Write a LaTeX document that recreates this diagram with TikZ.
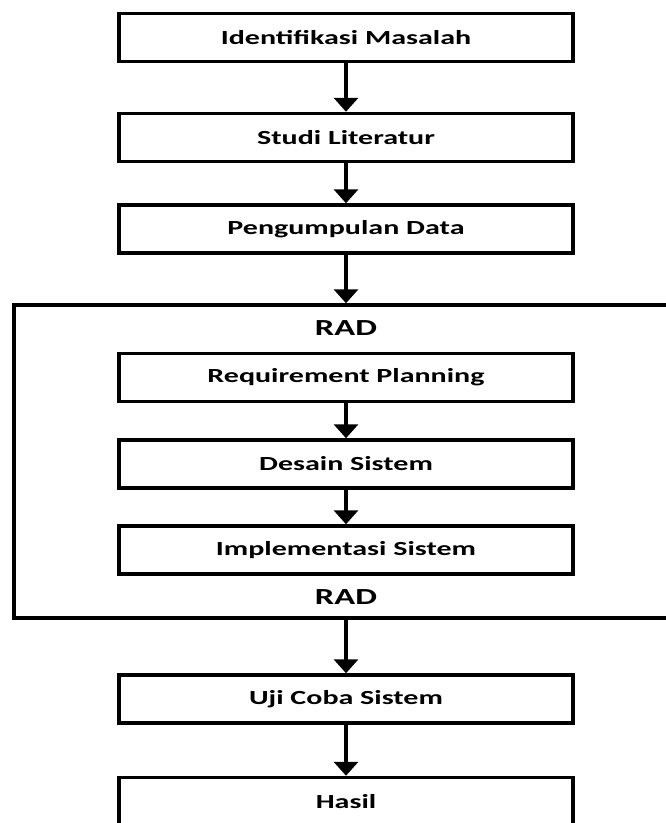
\documentclass[tikz,border=0pt]{standalone}
\usepackage{fontspec}
\setmainfont[FakeStretch=1.5]{Carlito}
\usetikzlibrary{arrows.meta}

\tikzset{
  box/.style={draw, line width=3.5pt, minimum width=454pt, minimum height=48pt,
    inner sep=0pt, font=\bfseries\fontsize{20}{24}\selectfont},
  panah/.style={line width=3.5pt, -{Triangle[width=24pt,length=14pt]}},
  judul/.style={font=\bfseries\fontsize{23}{27}\selectfont},
}

\begin{document}
\begin{tikzpicture}[x=1pt, y=-1pt]
    \useasboundingbox (0,0) rectangle (666,823) ;
    \clip (0,0) rectangle (666,823) ;
    \fill [white] (0,0) rectangle (666,823) ;

    \node [box] (masalah) at (346,37.5) {Identifikasi Masalah} ;
    \node [box] (studi) at (346,137.5) {Studi Literatur} ;
    \node [box] (data) at (346,229) {Pengumpulan Data} ;

    % kotak RAD
    \node [draw, line width=3.5pt, minimum width=666pt, minimum height=313pt] (rad) at (347,461.5) {} ;
    \node [judul] (radatas) at (346,328) {RAD} ;
    \node [box] (req) at (346,377.5) {Requirement Planning} ;
    \node [box] (desain) at (346,464) {Desain Sistem} ;
    \node [box] (impl) at (346,550) {Implementasi Sistem} ;
    \node [judul] (radbawah) at (346,597) {RAD} ;

    \node [box] (uji) at (346,699) {Uji Coba Sistem} ;
    \node [box] (hasil) at (346,801.5) {Hasil} ;

    \draw [panah] (masalah) -- (studi) ;
    \draw [panah] (studi) -- (data) ;
    \draw [panah] (data.south) -- (data.south |- rad.north) ;
    \draw [panah] (req) -- (desain) ;
    \draw [panah] (desain) -- (impl) ;
    \draw [panah] (uji.north |- rad.south) -- (uji.north) ;
    \draw [panah] (uji) -- (hasil) ;
\end{tikzpicture}
\end{document}
